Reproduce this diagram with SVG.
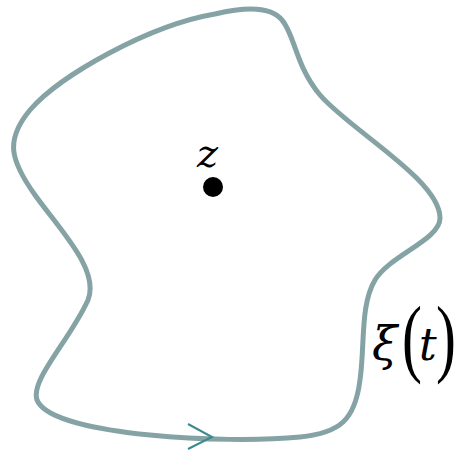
<svg xmlns="http://www.w3.org/2000/svg" width="457" height="453" viewBox="0 0 457 453">
<style>
.curve{fill:none;stroke:#85a3a5;stroke-width:5;stroke-linejoin:round}
.arr{fill:none;stroke:#3a8a8e;stroke-width:2}
.m{font-family:"DejaVu Serif","Liberation Serif",serif;font-style:italic;fill:#000}
.p{font-family:"Liberation Serif","DejaVu Serif",serif;fill:#000}
</style>
<rect width="457" height="453" fill="#fff"/>
<g id="connectors">
<path class="curve" d="M 215 14 C 240 8, 270 5, 282 20 C 295 35, 295 65, 320 95 C 350 130, 440 180, 440 218 C 440 240, 390 255, 375 280 C 360 305, 365 345, 360 380 C 355 420, 340 433, 300 437 C 260 441, 200 440, 150 435 C 100 430, 45 420, 37 400 C 30 380, 70 340, 88 300 C 100 270, 60 230, 35 195 C 10 160, 5 140, 30 110 C 60 75, 150 25, 215 14 Z"/>
<polyline class="arr" points="188,424 212,437 188,449"/>
</g>
<g id="z">
<circle cx="213" cy="187" r="10" fill="#000"/>
<text class="m" x="197" y="167" font-size="40">z</text>
</g>
<g id="xi">
<text class="m" x="372" y="360" font-size="46">ξ</text>
<text class="p" x="0" y="0" font-size="60" transform="translate(402,366) scale(1,1.45)">(</text>
<text class="m" x="419" y="360" font-size="44">t</text>
<text class="p" x="0" y="0" font-size="60" transform="translate(436,366) scale(1,1.45)">)</text>
</g>
</svg>
